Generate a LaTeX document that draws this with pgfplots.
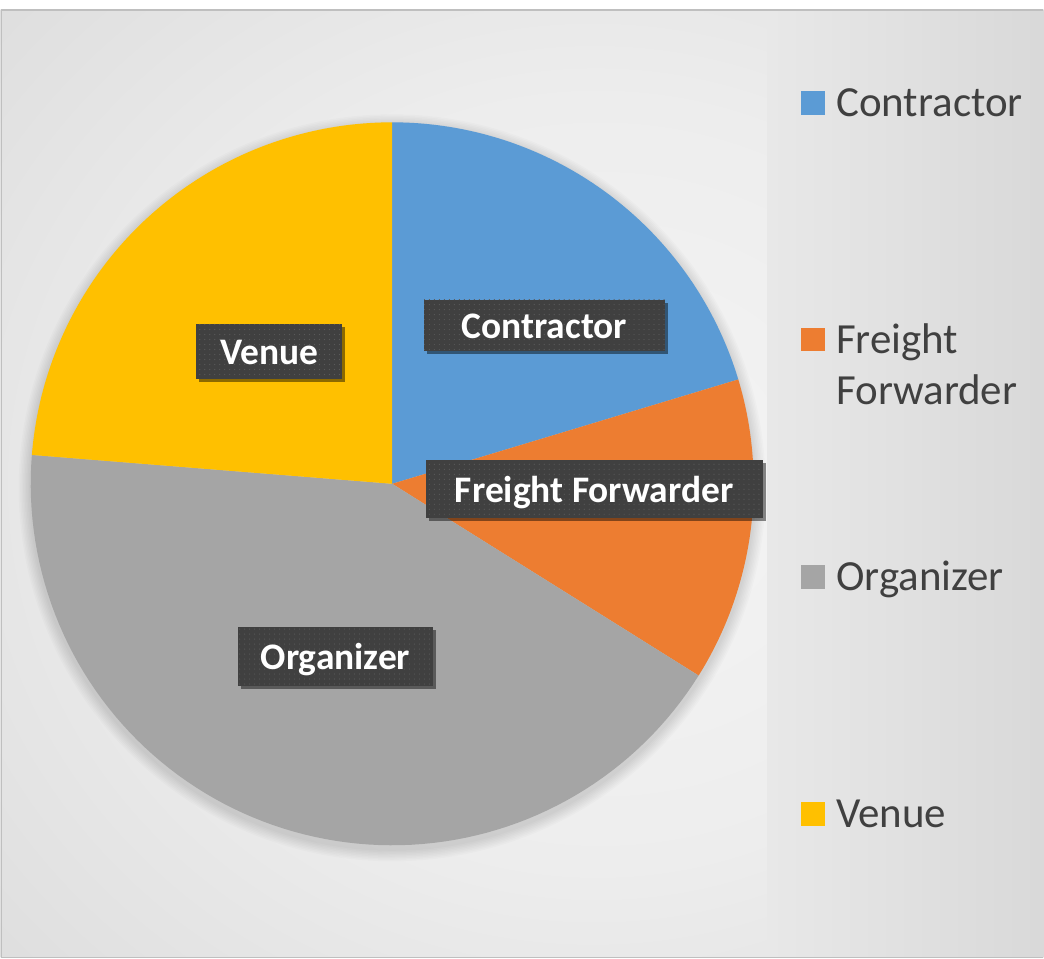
\documentclass[border=0pt]{standalone}
\usepackage{pgfplots}
\usepackage{pgfplotstable}
\pgfplotsset{compat=1.18}
\usepackage{fontspec}
\setmainfont{Carlito}
\usetikzlibrary{shadows,patterns.meta}

\definecolor{pie0}{HTML}{5B9BD5}
\definecolor{pie1}{HTML}{ED7D31}
\definecolor{pie2}{HTML}{A5A5A5}
\definecolor{pie3}{HTML}{FFC000}
\definecolor{boxc}{HTML}{404040}
\definecolor{dotc}{HTML}{5A5A5A}
\definecolor{legtext}{HTML}{404040}
\definecolor{framec}{HTML}{BFBFBF}

\pgfdeclareradialshading{bgshade}{\pgfpoint{5bp}{0bp}}{%
  color(0bp)=(white!96!black);
  color(20bp)=(white!93!black);
  color(50bp)=(white!83!black);
  color(75bp)=(white!74!black)}

\pgfplotstableread[col sep=comma]{
label,value
Contractor,12
Freight Forwarder,8
Organizer,25
Venue,14
}\piedata

\tikzset{
  lbl/.style={fill=boxc, text=white, inner sep=0pt, anchor=center,
    text height=27.5pt, text depth=0pt,
    font=\fontsize{37.5}{45}\selectfont\bfseries,
    postaction={pattern={Dots[distance=5pt, radius=0.6pt]}, pattern color=dotc},
    drop shadow={shadow xshift=3pt, shadow yshift=-3pt, opacity=0.45, fill=black}},
  leg/.style={anchor=base west, inner sep=0pt, text=legtext,
    font=\fontsize{43}{51}\selectfont}
}

\begin{document}
\begin{tikzpicture}[x=1pt,y=1pt]
% page and chart area
\fill[white] (0,0) rectangle (1044,960);
\shade[shading=bgshade] (0,1) rectangle (1044,950);
\shade[left color=white!91!black, right color=white!85!black] (768,1) rectangle (1044,950);
\draw[framec, line width=1.5pt] (0,950) -- (1044,950);
\draw[framec, line width=1pt] (0.5,1) -- (0.5,950);
\draw[framec, line width=1pt] (0,1) -- (1044,1);

% soft shadow under the pie
\foreach \k in {1,...,8}{
  \fill[black, opacity=0.014] (392,471.5) circle ({362+1.5*\k});
}

\begin{axis}[
  at={(392pt,475.5pt)}, anchor=center,
  scale only axis, width=724pt, height=724pt,
  xmin=-1, xmax=1, ymin=-1, ymax=1,
  hide axis, clip=false,
]
  \def\total{0}
  \pgfplotsforeachungrouped \i in {0,...,3}{%
    \pgfplotstablegetelem{\i}{value}\of\piedata
    \pgfmathsetmacro{\total}{\total+\pgfplotsretval}%
  }
  \def\curang{90}
  \pgfplotsforeachungrouped \i in {0,...,3}{%
    \pgfplotstablegetelem{\i}{value}\of\piedata
    \pgfmathsetmacro{\nextang}{\curang-360*\pgfplotsretval/\total}%
    \edef\doslice{\noexpand\addplot[fill=pie\i, draw=none, domain=\nextang:\curang,
      samples=90, variable=\noexpand\t]
      ({cos(\noexpand\t)},{sin(\noexpand\t)}) -- (axis cs:0,0) -- cycle;}%
    \doslice
    \let\curang\nextang
  }

  \node[lbl, minimum width=241pt, minimum height=51pt] at (axis cs:0.421,0.439) {Contractor};
  \node[lbl, minimum width=337pt, minimum height=58pt] at (axis cs:0.559,-0.015) {Freight Forwarder};
  \node[lbl, minimum width=146pt, minimum height=55pt] at (axis cs:-0.340,0.367) {Venue};
  \node[lbl, minimum width=195pt, minimum height=59pt] at (axis cs:-0.157,-0.477) {Organizer};
\end{axis}

% legend
\fill[pie0] (801,845) rectangle (825,869);
\node[leg] at (836.5,843.5) {Contractor};
\fill[pie1] (801,608) rectangle (825,632);
\node[leg] at (836.5,605.5) {Freight};
\node[leg] at (836.5,554.5) {Forwarder};
\fill[pie2] (801,370) rectangle (825,394);
\node[leg] at (836.5,368.5) {Organizer};
\fill[pie3] (801,133) rectangle (825,157);
\node[leg] at (836.5,131.5) {Venue};
\end{tikzpicture}
\end{document}
